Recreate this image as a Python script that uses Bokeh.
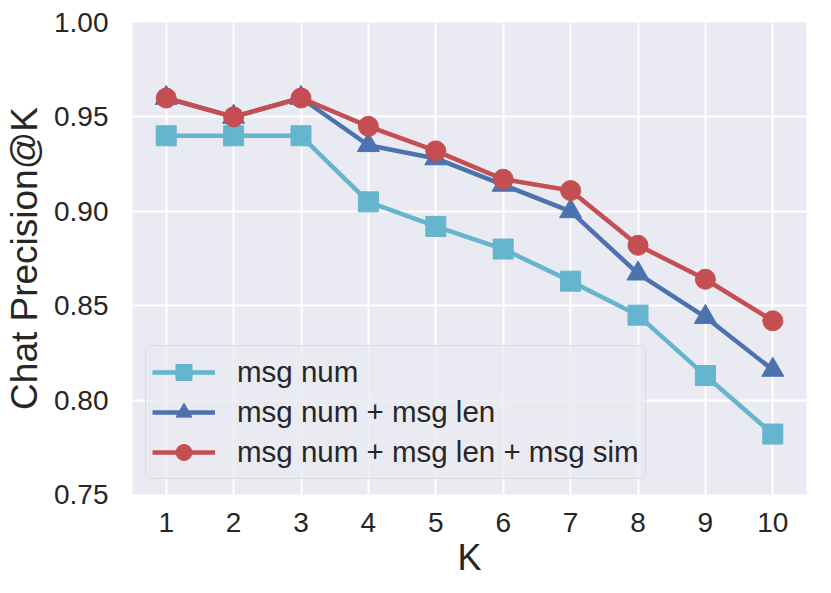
from bokeh.plotting import figure
from bokeh.models import Range1d, FixedTicker, Legend, LegendItem, CustomJSTickFormatter
from bokeh.embed import file_html
from bokeh.resources import INLINE

ks = [1, 2, 3, 4, 5, 6, 7, 8, 9, 10]
msg_num = [0.940, 0.940, 0.940, 0.905, 0.892, 0.880, 0.863, 0.845, 0.813, 0.782]
msg_num_len = [0.960, 0.950, 0.960, 0.935, 0.928, 0.914, 0.900, 0.867, 0.844, 0.816]
msg_num_len_sim = [0.960, 0.950, 0.960, 0.945, 0.932, 0.917, 0.911, 0.882, 0.864, 0.842]
y_ticks = [0.75, 0.80, 0.85, 0.90, 0.95, 1.00]
labels = ["msg num", "msg num + msg len", "msg num + msg len + msg sim"]

FONT = "Liberation Sans"
p = figure(width=815, height=580, output_backend="svg", toolbar_location=None,
           x_range=Range1d(0.5, 10.5), y_range=Range1d(0.75, 1.0),
           min_border_left=132, min_border_right=9, min_border_top=22, min_border_bottom=85)
p.background_fill_color = "#eaeaf2"
p.border_fill_color = "white"
p.outline_line_color = None

for ax in (p.xaxis, p.yaxis):
    ax.axis_line_color = None
    ax.major_tick_line_color = None
    ax.minor_tick_line_color = None
    ax.major_label_text_font = FONT
    ax.major_label_text_font_size = "28px"
    ax.major_label_text_color = "#262626"
    ax.axis_label_text_font = FONT
    ax.axis_label_text_font_size = "36px"
    ax.axis_label_text_font_style = "normal"
    ax.axis_label_text_color = "#262626"

p.yaxis.axis_label_text_font_size = "37px"
p.xaxis.ticker = FixedTicker(ticks=ks)
p.yaxis.ticker = FixedTicker(ticks=y_ticks)
p.yaxis.formatter = CustomJSTickFormatter(code="return tick.toFixed(2);")
p.xaxis.axis_label = "K"
p.yaxis.axis_label = "Chat Precision@K"
p.xaxis.major_label_standoff = 12
p.yaxis.major_label_standoff = 18
p.xaxis.axis_label_standoff = 2
p.yaxis.axis_label_standoff = 6

p.xgrid.grid_line_color = "white"
p.ygrid.grid_line_color = "white"
p.xgrid.grid_line_width = 2
p.ygrid.grid_line_width = 2

colors = ["#64b5cd", "#4c72b0", "#c44e52"]
markers = ["square", "triangle", "circle"]
sizes = [20, 22, 20]
series = [msg_num, msg_num_len, msg_num_len_sim]

items = []
for ys, c, m, s, lab in zip(series, colors, markers, sizes, labels):
    l = p.line(ks, ys, line_color=c, line_width=4.5)
    sc = p.scatter(ks, ys, marker=m, size=s, fill_color=c, line_color=c)
    items.append(LegendItem(label=lab, renderers=[l, sc]))

legend = Legend(items=items, location=(13, 15))
legend.label_text_font = FONT
legend.label_text_font_size = "29.5px"
legend.label_text_color = "#262626"
legend.glyph_width = 63
legend.glyph_height = 40
legend.spacing = 0
legend.padding = 6
legend.margin = 0
legend.label_standoff = 22
legend.background_fill_color = "#eaeaf2"
legend.background_fill_alpha = 0.8
legend.border_line_color = "#cccccc"
legend.border_line_width = 1.5
legend.border_radius = 6
p.add_layout(legend)

open("out.html", "w").write(file_html(p, INLINE))
